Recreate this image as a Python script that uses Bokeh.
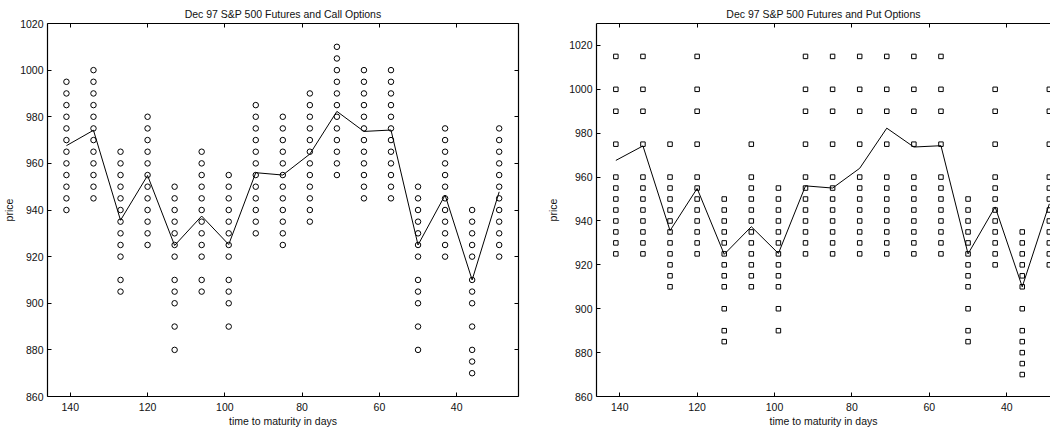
from bokeh.plotting import figure
from bokeh.models import ColumnDataSource, Range1d, LinearAxis, FixedTicker
from bokeh.layouts import row
from bokeh.embed import file_html
from bokeh.resources import INLINE

days = [141, 134, 127, 120, 113, 106, 99, 92, 85, 78, 71, 64, 57, 50, 43, 36, 29]
futures = [967.6, 974.2, 935.6, 954.8, 924.8, 937.4, 925.2, 956.0, 955.0, 964.0,
           982.3, 973.7, 974.3, 925.0, 946.4, 910.0, 947.8]

call_strikes = [
    [940, 945, 950, 955, 960, 965, 970, 975, 980, 985, 990, 995],
    [945, 950, 955, 960, 965, 970, 975, 980, 985, 990, 995, 1000],
    [905, 910, 920, 925, 930, 935, 940, 945, 950, 955, 960, 965],
    [925, 930, 935, 940, 945, 950, 955, 960, 965, 970, 975, 980],
    [880, 890, 900, 905, 910, 920, 925, 930, 935, 940, 945, 950],
    [905, 910, 920, 925, 930, 935, 940, 945, 950, 955, 960, 965],
    [890, 900, 905, 910, 920, 925, 930, 935, 940, 945, 950, 955],
    [930, 935, 940, 945, 950, 955, 960, 965, 970, 975, 980, 985],
    [925, 930, 935, 940, 945, 950, 955, 960, 965, 970, 975, 980],
    [935, 940, 945, 950, 955, 960, 965, 970, 975, 980, 985, 990],
    [955, 960, 965, 970, 975, 980, 985, 990, 995, 1000, 1005, 1010],
    [945, 950, 955, 960, 965, 970, 975, 980, 985, 990, 995, 1000],
    [945, 950, 955, 960, 965, 970, 975, 980, 985, 990, 995, 1000],
    [880, 890, 900, 905, 910, 920, 925, 930, 935, 940, 945, 950],
    [920, 925, 930, 935, 940, 945, 950, 955, 960, 965, 970, 975],
    [870, 875, 880, 890, 900, 905, 910, 920, 925, 930, 935, 940],
    [920, 925, 930, 935, 940, 945, 950, 955, 960, 965, 970, 975],
]

put_strikes = [
    [925, 930, 935, 940, 945, 950, 955, 960, 975, 990, 1000, 1015],
    [925, 930, 935, 940, 945, 950, 955, 960, 975, 990, 1000, 1015],
    [910, 915, 920, 925, 930, 935, 940, 945, 950, 955, 960, 975],
    [925, 930, 935, 940, 945, 950, 955, 960, 975, 990, 1000, 1015],
    [885, 890, 900, 910, 915, 920, 925, 930, 935, 940, 945, 950],
    [910, 915, 920, 925, 930, 935, 940, 945, 950, 955, 960, 975],
    [890, 900, 910, 915, 920, 925, 930, 935, 940, 945, 950, 955],
    [925, 930, 935, 940, 945, 950, 955, 960, 975, 990, 1000, 1015],
    [925, 930, 935, 940, 945, 950, 955, 960, 975, 990, 1000, 1015],
    [925, 930, 935, 940, 945, 950, 955, 960, 975, 990, 1000, 1015],
    [925, 930, 935, 940, 945, 950, 955, 960, 975, 990, 1000, 1015],
    [925, 930, 935, 940, 945, 950, 955, 960, 975, 990, 1000, 1015],
    [925, 930, 935, 940, 945, 950, 955, 960, 975, 990, 1000, 1015],
    [885, 890, 900, 910, 915, 920, 925, 930, 935, 940, 945, 950],
    [920, 925, 930, 935, 940, 945, 950, 955, 960, 975, 990, 1000],
    [870, 875, 880, 885, 890, 900, 910, 915, 920, 925, 930, 935],
    [920, 925, 930, 935, 940, 945, 950, 955, 960, 975, 990, 1000],
]

x_ticks = [40, 60, 80, 100, 120, 140]
y_ticks_call = [860, 880, 900, 920, 940, 960, 980, 1000, 1020]
y_ticks_put = [860, 880, 900, 920, 940, 960, 980, 1000, 1020]

title_call = "Dec 97 S&P 500 Futures and Call Options"
title_put = "Dec 97 S&P 500 Futures and Put Options"
x_label = "time to maturity in days"
y_label = "price"

FONT = "Liberation Sans"
FS = "10.5px"


def flatten(strikes):
    xs, ys = [], []
    for d, col in zip(days, strikes):
        for s in col:
            xs.append(d)
            ys.append(s)
    return xs, ys


def style_axis(ax, ticks, show_labels=True):
    ax.ticker = FixedTicker(ticks=ticks)
    ax.major_tick_in = 4
    ax.major_tick_out = 0
    ax.minor_tick_line_color = None
    ax.axis_line_color = "black"
    ax.axis_line_width = 1.2
    ax.major_tick_line_color = "black"
    ax.major_label_text_font = FONT
    ax.major_label_text_font_size = FS
    ax.major_label_text_color = "#111111" if show_labels else None
    ax.major_label_standoff = 4
    ax.axis_label_text_font = FONT
    ax.axis_label_text_font_size = FS
    ax.axis_label_text_font_style = "normal"
    ax.axis_label_text_color = "#111111"


def make_plot(title, strikes, yrange, xrange, yticks, marker, msize,
              frame_w, bl, br, right_axis, ylab_standoff):
    p = figure(frame_width=frame_w, frame_height=373,
               x_range=Range1d(*xrange), y_range=Range1d(*yrange),
               output_backend="svg", toolbar_location=None,
               min_border_left=bl, min_border_right=br,
               min_border_top=23, min_border_bottom=20)
    p.title.text = title
    p.title.align = "center"
    p.title.text_font = FONT
    p.title.text_font_size = FS
    p.title.text_font_style = "normal"
    p.title.text_color = "#111111"
    p.title.standoff = 8
    p.outline_line_color = None
    p.grid.visible = False
    p.background_fill_color = "white"
    p.border_fill_color = "white"

    style_axis(p.xaxis[0], x_ticks)
    style_axis(p.yaxis[0], yticks)
    p.xaxis[0].axis_label = x_label
    p.yaxis[0].axis_label = y_label
    p.xaxis[0].major_label_standoff = 6
    p.xaxis[0].axis_label_standoff = 1
    p.yaxis[0].axis_label_standoff = ylab_standoff

    top = LinearAxis()
    style_axis(top, x_ticks, show_labels=False)
    p.add_layout(top, "above")
    if right_axis:
        rt = LinearAxis()
        style_axis(rt, yticks, show_labels=False)
        p.add_layout(rt, "right")

    xs, ys = flatten(strikes)
    src = ColumnDataSource(dict(x=xs, y=ys))
    p.scatter("x", "y", source=src, marker=marker, size=msize,
              fill_color=None, line_color="black", line_width=1)
    p.line(days, futures, line_color="black", line_width=1)
    return p


p1 = make_plot(title_call, call_strikes, (860, 1020), (145.9, 24.0),
               y_ticks_call, "circle", 5.5, 471, 40, 26, True, 2)
p2 = make_plot(title_put, put_strikes, (860, 1030), (146.0, 28.7),
               y_ticks_put, "square", 4.5, 454, 46, 0, False, 7)

layout = row(p1, p2)
open("out.html", "w").write(file_html(layout, INLINE))
